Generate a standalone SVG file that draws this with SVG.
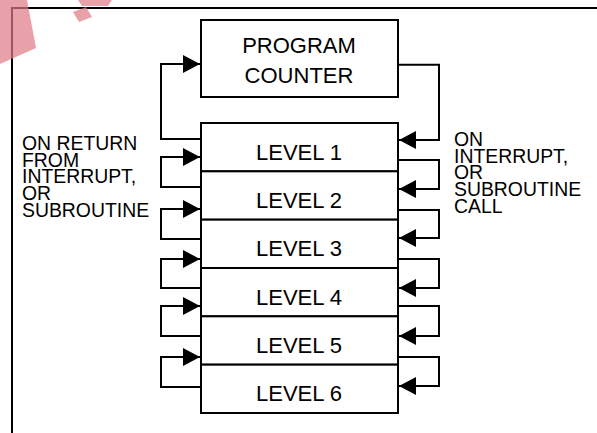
<svg xmlns="http://www.w3.org/2000/svg" width="597" height="433" viewBox="0 0 597 433">
  <style>
    .box { fill: #ffffff; stroke: #000000; stroke-width: 2; }
    .lbl { font-family: "Liberation Sans", Arial, sans-serif; font-size: 22px; fill: #000000; text-anchor: middle; }
    .note { font-family: "Liberation Sans", Arial, sans-serif; font-size: 19.4px; fill: #000000; }
    .wire { fill: none; stroke: #000000; stroke-width: 2; marker-end: url(#ah); }
    .frame { fill: none; stroke: #000000; stroke-width: 2; }
  </style>
  <defs>
    <marker id="ah" markerWidth="17" markerHeight="18" refX="17" refY="9" orient="auto" markerUnits="userSpaceOnUse">
      <path d="M0,0 L17,9 L0,18 Z" fill="#000000"/>
    </marker>
  </defs>
  <rect width="597" height="433" fill="#ffffff"/>
  <path class="frame" d="M12,433 V8 H597"/>
  <g id="watermark" fill="#e07a86" opacity="0.7">
    <polygon points="0,0 27,0 36,48 0,64"/>
    <polygon points="73,12 86,7 92,17 79,22"/>
    <polygon points="78,0 112,0 108,6 82,6"/>
  </g>
  <g id="connectors">
    <path class="wire" d="M201,139 H161 V64 H200"/>
    <path class="wire" d="M398,64.7 H439 V140 H399"/>
    <path class="wire" d="M201,187 H161 V157 H200"/>
    <path class="wire" d="M201,239 H161 V209 H200"/>
    <path class="wire" d="M201,288 H161 V259 H200"/>
    <path class="wire" d="M201,336 H161 V306 H200"/>
    <path class="wire" d="M201,387 H161 V357 H200"/>
    <path class="wire" d="M398,160 H439 V189 H399"/>
    <path class="wire" d="M398,210 H439 V238 H399"/>
    <path class="wire" d="M398,259 H439 V288 H399"/>
    <path class="wire" d="M398,306 H439 V336 H399"/>
    <path class="wire" d="M398,357 H439 V386 H399"/>
  </g>
  <g id="program-counter">
    <rect class="box" x="201" y="20" width="197" height="77"/>
    <text class="lbl" x="299" y="53.3">PROGRAM</text>
    <text class="lbl" x="299" y="82.7">COUNTER</text>
  </g>
  <g id="level1">
    <rect class="box" x="201" y="123" width="197" height="48.33"/>
    <text class="lbl" x="299" y="159.5">LEVEL 1</text>
  </g>
  <g id="level2">
    <rect class="box" x="201" y="171.33" width="197" height="48.33"/>
    <text class="lbl" x="299" y="207.8">LEVEL 2</text>
  </g>
  <g id="level3">
    <rect class="box" x="201" y="219.67" width="197" height="48.33"/>
    <text class="lbl" x="299" y="256.2">LEVEL 3</text>
  </g>
  <g id="level4">
    <rect class="box" x="201" y="268" width="197" height="48.33"/>
    <text class="lbl" x="299" y="304.5">LEVEL 4</text>
  </g>
  <g id="level5">
    <rect class="box" x="201" y="316.33" width="197" height="48.33"/>
    <text class="lbl" x="299" y="352.8">LEVEL 5</text>
  </g>
  <g id="level6">
    <rect class="box" x="201" y="364.67" width="197" height="48.33"/>
    <text class="lbl" x="299" y="401.2">LEVEL 6</text>
  </g>
  <g id="label-return">
    <text class="note" x="22" y="150">ON RETURN<tspan x="22" dy="16.7">FROM</tspan><tspan x="22" dy="16.7">INTERRUPT,</tspan><tspan x="22" dy="16.7">OR</tspan><tspan x="22" dy="16.7">SUBROUTINE</tspan></text>
  </g>
  <g id="label-call">
    <text class="note" x="454" y="146">ON<tspan x="454" dy="16.7">INTERRUPT,</tspan><tspan x="454" dy="16.7">OR</tspan><tspan x="454" dy="16.7">SUBROUTINE</tspan><tspan x="454" dy="16.7">CALL</tspan></text>
  </g>
</svg>
